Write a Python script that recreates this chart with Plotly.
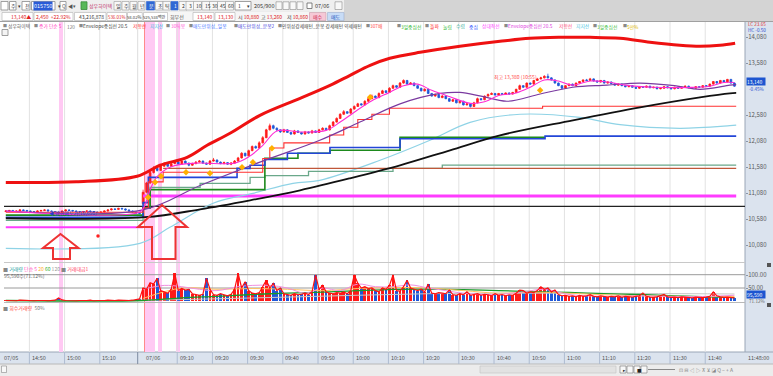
import plotly.graph_objects as go

W, H = 773, 376
FONT = "Noto Sans CJK KR, Noto Sans, DejaVu Sans, sans-serif"

# ---------------- data ----------------
time_labels = ["14:50", "15:00", "15:10", "09:10", "09:20", "09:30", "09:40", "09:50", "10:00",
               "10:10", "10:20", "10:30", "10:40", "10:50", "11:00", "11:10", "11:20", "11:30", "11:40"]
time_label_idx = [7, 17, 27, 49, 59, 69, 79, 89, 99, 109, 119, 129, 139, 149, 159, 169, 179, 189, 199]
day_labels = ["07/05", "07/06"]
day_label_idx = [0, 39]

opens_05 = [10730,10740,10750,10730,10740,10760,10750,10740,10730,10720,
            10740,10750,10760,10740,10730,10720,10710,10740,10760,10750,
            10740,10730,10720,10730,10740,10730,10720,10710,10720,10740,
            10760,10780,10770,10790,10780,10760,10740,10720,10700]
highs_05 = [10750,10760,10760,10750,10770,10770,10760,10750,10740,10750,
            10760,10770,10770,10750,10740,10730,10750,10770,10770,10760,
            10750,10740,10740,10750,10750,10740,10730,10730,10750,10770,
            10790,10790,10800,10800,10790,10770,10750,10730,10710]
lows_05 = [10720,10730,10720,10720,10730,10740,10730,10720,10710,10710,
           10730,10740,10730,10720,10710,10700,10700,10730,10740,10730,
           10720,10710,10710,10720,10720,10710,10700,10700,10710,10730,
           10750,10760,10760,10770,10750,10730,10710,10690,10680]
closes_05 = [10740,10750,10730,10740,10760,10750,10740,10730,10720,10740,
             10750,10760,10740,10730,10720,10710,10740,10760,10750,10740,
             10730,10720,10730,10740,10730,10720,10710,10720,10740,10760,
             10780,10770,10790,10780,10760,10740,10720,10700,10690]

opens_06 = [10880,11100,11280,11480,11560,11520,11600,11640,11600,11650,
            11680,11640,11700,11660,11620,11650,11680,11700,11660,11640,
            11700,11720,11680,11650,11670,11640,11660,11700,11760,11850,
            11800,11900,11980,11950,12050,12150,12300,12380,12330,12300,
            12260,12300,12250,12220,12280,12250,12220,12260,12240,12280,
            12250,12300,12330,12300,12380,12450,12520,12600,12650,12620,
            12700,12750,12800,12780,12850,12900,12950,12920,13000,13050,
            13020,13100,13150,13120,13200,13250,13180,13200,13150,13100,
            13050,13080,13000,12950,12980,12920,12950,12900,12850,12880,
            12820,12850,12780,12800,12750,12820,12900,12880,12950,12980,
            13000,12970,13000,12980,13010,12990,13020,13080,13150,13120,
            13200,13180,13250,13280,13300,13330,13300,13260,13200,13150,
            13100,13150,13180,13150,13200,13230,13260,13250,13280,13240,
            13220,13250,13200,13220,13190,13160,13180,13150,13130,13150,
            13120,13100,13130,13120,13140,13110,13120,13090,13100,13130,
            13110,13090,13120,13100,13120,13140,13110,13100,13130,13120,
            13150,13140,13180,13230,13200,13250,13220,13270,13200]
highs_06 = [11150,11300,11500,11600,11580,11620,11680,11660,11670,11700,
            11700,11720,11710,11670,11670,11700,11720,11710,11670,11720,
            11760,11730,11690,11690,11680,11680,11720,11780,11870,11860,
            11920,12000,12000,12080,12180,12320,12420,12400,12350,12310,
            12320,12310,12260,12300,12290,12260,12280,12270,12300,12290,
            12320,12350,12340,12400,12470,12540,12620,12680,12660,12720,
            12770,12820,12810,12870,12920,12980,12960,13020,13070,13060,
            13120,13170,13160,13220,13270,13260,13220,13210,13160,13110,
            13100,13090,13010,13000,12990,12970,12960,12910,12890,12890,
            12860,12860,12810,12810,12840,12920,12910,12960,13000,13020,
            13010,13010,13010,13020,13020,13030,13090,13170,13160,13210,
            13210,13260,13300,13320,13350,13380,13310,13270,13210,13160,
            13160,13190,13190,13210,13240,13270,13280,13300,13290,13250,
            13260,13260,13230,13230,13200,13190,13190,13160,13160,13160,
            13130,13140,13140,13150,13150,13130,13130,13110,13140,13140,
            13120,13130,13130,13130,13150,13150,13120,13140,13140,13160,
            13160,13190,13240,13240,13260,13260,13280,13280,13210]
lows_06 = [10860,11080,11260,11460,11500,11510,11590,11590,11590,11640,
           11630,11630,11650,11600,11610,11640,11670,11650,11630,11630,
           11690,11670,11640,11640,11630,11620,11650,11690,11750,11790,
           11790,11890,11940,11940,12040,12140,12290,12310,12280,12240,
           12250,12240,12200,12210,12240,12210,12210,12230,12230,12240,
           12240,12290,12290,12290,12370,12440,12510,12590,12610,12610,
           12690,12740,12770,12770,12840,12890,12910,12910,12990,13010,
           13010,13090,13110,13110,13190,13170,13170,13140,13090,13040,
           13040,12990,12940,12940,12910,12910,12890,12840,12840,12810,
           12810,12770,12770,12730,12740,12810,12870,12870,12940,12970,
           12960,12960,12970,12970,12980,12980,13010,13070,13110,13110,
           13170,13170,13240,13270,13290,13290,13250,13190,13140,13080,
           13090,13140,13140,13140,13190,13220,13240,13240,13230,13210,
           13210,13190,13190,13180,13150,13150,13140,13120,13120,13110,
           13090,13090,13110,13110,13100,13100,13080,13080,13090,13100,
           13080,13080,13090,13090,13110,13100,13090,13090,13110,13110,
           13130,13130,13170,13190,13190,13210,13210,13190,13130]
closes_06 = [11100,11280,11480,11560,11520,11600,11640,11600,11650,11680,
             11640,11700,11660,11620,11650,11680,11700,11660,11640,11700,
             11720,11680,11650,11670,11640,11660,11700,11760,11850,11800,
             11900,11980,11950,12050,12150,12300,12380,12330,12300,12260,
             12300,12250,12220,12280,12250,12220,12260,12240,12280,12250,
             12300,12330,12300,12380,12450,12520,12600,12650,12620,12700,
             12750,12800,12780,12850,12900,12950,12920,13000,13050,13020,
             13100,13150,13120,13200,13250,13180,13200,13150,13100,13050,
             13080,13000,12950,12980,12920,12950,12900,12850,12880,12820,
             12850,12780,12800,12750,12820,12900,12880,12950,12980,13000,
             12970,13000,12980,13010,12990,13020,13080,13150,13120,13200,
             13180,13250,13280,13300,13330,13300,13260,13200,13150,13100,
             13150,13180,13150,13200,13230,13260,13250,13280,13240,13220,
             13250,13200,13220,13190,13160,13180,13150,13130,13150,13120,
             13100,13130,13120,13140,13110,13120,13090,13100,13130,13110,
             13090,13120,13100,13120,13140,13110,13100,13130,13120,13150,
             13140,13180,13230,13200,13250,13220,13270,13200,13140]

volume_05 = [2,1,2,1,3,2,1,2,1,2,3,2,1,2,3,12,4,2,1,2,1,2,1,2,3,1,2,1,2,3,2,2,3,2,1,2,3,5,8]
volume_06 = [50,45,70,65,87,40,35,30,45,106,
             40,48,42,45,28,25,22,26,87,45,
             25,22,28,24,20,26,45,106,50,74,
             40,30,28,32,55,80,50,68,40,50,
             28,25,22,28,24,26,30,25,35,100,
             45,60,35,30,28,32,30,35,28,40,
             100,68,50,55,48,50,40,35,50,45,
             60,100,40,38,55,80,50,45,40,45,
             35,65,30,28,32,30,28,42,25,22,
             28,24,35,22,25,28,22,26,24,20,
             28,22,25,20,24,22,30,42,40,30,
             35,32,40,55,45,50,35,42,25,20,
             22,18,20,16,22,18,20,24,18,16,
             20,18,15,18,16,20,14,18,16,15,
             18,20,31,18,15,14,16,20,25,16,
             14,15,13,16,15,14,12,15,14,13,
             15,18,35,20,16,14,15,13,12]

assert len(opens_05) == len(highs_05) == len(lows_05) == len(closes_05) == len(volume_05) == 39
assert len(opens_06) == len(highs_06) == len(lows_06) == len(closes_06) == len(volume_06) == 169

opens = opens_05 + opens_06
highs = highs_05 + highs_06
lows = lows_05 + lows_06
closes = closes_05 + closes_06
volumes = volume_05 + volume_06
bar_idx = list(range(len(closes)))

# overlay lines (bar index, price)
env_x = [0, 20, 37.3, 43.8, 51.5, 57.2, 63.7, 72.2, 83.6, 92.1, 97.8, 103.5, 109.1, 117.7, 129.0, 140.4,
         148.9, 157.4, 166.0, 174.5, 183.0, 191.5, 197.2, 202.9, 207.2]
env_y = [11290, 11300, 11407, 11619, 11772, 12003, 12234, 12580, 12907, 13157, 13349, 13541, 13676, 13791,
         13907, 14003, 14061, 14080, 14080, 14061, 13984, 13926, 13907, 13926, 13965]
black_x = [0, 39.5, 55.2, 69.4, 83.6, 97.8, 112.0, 126.2, 140.4, 161.1, 180.2, 197.2, 205.7, 207.5]
black_y = [10600, 10620, 10772, 10945, 11138, 11369, 11618, 11907, 12195, 12484, 12734, 12926, 13003, 13010]
cyan_x = [0, 38.1, 46.6, 58.9, 70.2, 81.6, 89.2, 106.3, 120.5, 131.9, 146.1, 163.1, 174.5, 191.5, 205.7, 207.5]
cyan_y = [10022, 10118, 10426, 10888, 11080, 11272, 11330, 11715, 12100, 12445, 12600, 12540, 12400, 12330, 12380, 12390]
purple_x = [0, 38.9, 55.2, 72.2, 89.2, 100.6, 112, 123.4, 129, 135, 142.4, 151.8, 161.1, 170.8, 180.2, 190, 197.2, 205.7, 207.5]
purple_y = [10740, 10760, 11230, 11680, 12100, 12450, 12800, 13000, 13020, 12950, 12850, 12990, 13120, 13160, 13200, 13150, 13080, 13160, 13170]
ma5_x = [0, 38, 39.5, 41, 43, 47, 54, 65, 69, 73, 77, 84, 91, 95, 99, 104, 109, 113, 117, 121, 126, 132,
         136, 140, 145, 149, 153, 157, 161, 166, 171, 176, 184, 194, 200, 204, 207]
ma5_y = [10740, 10720, 10850, 11150, 11400, 11590, 11660, 11660, 11780, 12000, 12280, 12260, 12290, 12450,
         12640, 12860, 13020, 13150, 13180, 13060, 12940, 12810, 12840, 12960, 13010, 13120, 13260, 13240,
         13160, 13240, 13220, 13160, 13120, 13115, 13140, 13210, 13210]
blue_x = [0, 39, 40.5, 65.7, 69.4, 73.6, 80, 92.1, 112, 153.2, 207.5]
blue_y = [10620, 10900, 11387, 11560, 11620, 11730, 11850, 11960, 12130, 12180, 12180]
green_x = [0, 39, 41, 73.6, 83, 92.1, 112, 153.2]
green_y = [10660, 10800, 11150, 11753, 11850, 11907, 12157, 12157]
teal_x = [0, 39, 41, 55.2, 69.4, 73.6, 86, 110, 124, 207.5]
teal_y = [10560, 10800, 11195, 11272, 11387, 11420, 11500, 11560, 11620, 11620]
brown_x = [44.7, 207.5]
brown_y = [11560, 11560]
redthin_x = [0, 39, 40.5, 44.7, 73, 75, 79, 92, 96, 100, 104, 109, 152.5, 207.5]
redthin_y = [10715, 10800, 11300, 11484, 11750, 11950, 12050, 12200, 12350, 12500, 12600, 12715, 12753, 12753]
magenta_left_x = [0, 39]
magenta_left_y = [10426, 10426]
magenta_right_x = [39, 207.5]
magenta_right_y = [11030, 11030]
ref_line_price = 10830
orange_x = [40.4, 42.4, 44.1, 51.2, 58.0, 67.1, 70.2, 75.6, 103.5, 151.8]
orange_y = [11003, 11291, 11407, 11484, 11464, 11580, 11676, 11945, 12926, 13060]

vol_ma5_x = [39, 45, 50, 55, 60, 66, 70, 75, 80, 85, 90, 95, 100, 105, 110, 115, 120, 125, 130, 140, 147, 153, 160, 170, 180, 190, 200, 207]
vol_ma5_y = [45, 60, 55, 45, 40, 55, 60, 60, 50, 30, 50, 40, 65, 55, 55, 62, 50, 40, 30, 26, 35, 45, 25, 18, 20, 17, 18, 22]
vol_ma20_x = [39, 50, 60, 70, 80, 90, 100, 110, 120, 130, 140, 150, 160, 170, 180, 190, 200, 207]
vol_ma20_y = [10, 50, 45, 48, 45, 40, 48, 52, 50, 40, 30, 34, 30, 24, 20, 18, 17, 17]
vol_ma60_x = [0, 39, 50, 60, 70, 80, 90, 100, 110, 120, 130, 140, 150, 160, 170, 180, 190, 200, 207]
vol_ma60_y = [2, 2, 12, 18, 25, 30, 34, 40, 45, 46, 44, 40, 36, 33, 28, 25, 20, 16, 13]
vol_ma120_x = [0, 39, 80, 120, 160, 207]
vol_ma120_y = [2, 3, 15, 28, 30, 27]

price_ticks = [10080, 10580, 11080, 11580, 12080, 12580, 13580, 14080]
vol_ticks = [50, 100]

# ---------------- geometry helpers ----------------
def xp(x):
    return x / W

def yp(y):
    return 1 - y / H

def price_at(y):
    return 14080 - (y - 37.3) * 500 / 26

def vol_at(y):
    return (301 - y) * 50 / 13

def idx_at(px):
    return (px - 5.8) / 3.52

XMIN, XMAX = idx_at(4), idx_at(745)

shapes = []
anns = []

def rect(x0, y0, x1, y1, fill, line=None, lw=0, layer="below"):
    shapes.append(dict(type="rect", xref="paper", yref="paper", x0=xp(x0), x1=xp(x1), y0=yp(y1), y1=yp(y0),
                       fillcolor=fill, line=dict(color=line or fill, width=lw), layer=layer))

def hline(x0, x1, y, color, w=1, layer="below"):
    shapes.append(dict(type="line", xref="paper", yref="paper", x0=xp(x0), x1=xp(x1), y0=yp(y), y1=yp(y),
                       line=dict(color=color, width=w), layer=layer))

def vline(x, y0, y1, color, w=1, layer="below"):
    shapes.append(dict(type="line", xref="paper", yref="paper", x0=xp(x), x1=xp(x), y0=yp(y0), y1=yp(y1),
                       line=dict(color=color, width=w), layer=layer))

def text(x, y, s, color="#333", size=5, anchor="left", bg=None):
    d = dict(xref="paper", yref="paper", x=xp(x), y=yp(y), text=s, showarrow=False, xanchor=anchor,
             yanchor="middle", font=dict(family=FONT, size=size, color=color), borderpad=0)
    if bg:
        d["bgcolor"] = bg
    anns.append(d)

# ---------------- background chrome ----------------
rect(0, 0, 773, 21.5, "#d4d4d4")
rect(0, 0, 344, 11.5, "#efefef")
rect(0, 11.5, 344, 21.5, "#f6f6f6")
hline(0, 773, 21.5, "#a0a0a0")
rect(745, 22, 773, 352, "#dbe3ee")
vline(745, 22, 364, "#9aa6b6")
rect(0, 352, 773, 364, "#dbe3ee")
hline(0, 773, 352, "#9aa6b6")
rect(0, 364, 773, 376, "#ececec")
hline(0, 773, 364, "#b8b8b8")

for x0, x1 in [(59, 63), (144, 155), (158, 162), (176, 180)]:
    rect(x0, 22, x1, 352, "#ffc9f3")
vline(144.5, 22, 352, "#ff8a8a", 1)

for i in time_label_idx:
    shapes.append(dict(type="line", xref="x", yref="paper", x0=i - 0.3, x1=i - 0.3, y0=yp(352), y1=yp(22),
                       line=dict(color="#e2e2e2", width=1), layer="below"))
    shapes.append(dict(type="line", xref="x", yref="paper", x0=i - 0.3, x1=i - 0.3, y0=yp(364), y1=yp(352),
                       line=dict(color="#aebbd0", width=1), layer="below"))
vline(137.7, 352, 364, "#7d8aa0", 1)
vline(137.7, 22, 352, "#dddddd", 1)

hline(4, 745, 262.5, "#c8c8c8")
hline(4, 745, 274.7, "#9a9a9a")
hline(4, 745, 288, "#9a9a9a")
hline(4, 745, 302.5, "#b8b8b8")

# ---------------- traces ----------------
fig = go.Figure()

def line_trace(x, y, color, width, shape="linear", axis=("x", "y"), dash=None):
    fig.add_trace(go.Scatter(x=x, y=y, mode="lines", line=dict(color=color, width=width, shape=shape, dash=dash),
                             xaxis=axis[0], yaxis=axis[1], hoverinfo="skip"))

line_trace([XMIN, XMAX], [ref_line_price, ref_line_price], "#222222", 1.3)
line_trace(magenta_left_x, magenta_left_y, "#ff3cff", 2)
line_trace(magenta_right_x, magenta_right_y, "#ff3cff", 3)
line_trace(cyan_x, cyan_y, "#8fd3e6", 1.2, "spline")
line_trace(teal_x, teal_y, "#6aa88a", 1.3, "hv")
line_trace(brown_x, brown_y, "#c0573a", 1.3)
line_trace(green_x, green_y, "#1d8a1d", 1.6, "hv")
line_trace(blue_x, blue_y, "#2346d8", 1.6, "hv")
line_trace(redthin_x, redthin_y, "#ff3030", 1.1, "hv")
line_trace(black_x, black_y, "#111111", 1.8, "spline")
line_trace(env_x, env_y, "#ee1111", 3, "spline")

fig.add_trace(go.Candlestick(
    x=bar_idx, open=opens, high=highs, low=lows, close=closes,
    increasing=dict(line=dict(color="#ff1a1a", width=0.8), fillcolor="#ff1a1a"),
    decreasing=dict(line=dict(color="#2058d8", width=0.8), fillcolor="#2058d8"),
    whiskerwidth=0, xaxis="x", yaxis="y", hoverinfo="skip"))

line_trace(purple_x, purple_y, "#7a3aa0", 1.2, "spline")
line_trace(ma5_x, ma5_y, "#ff2ad4", 1.1, "spline")
fig.add_trace(go.Scatter(x=orange_x, y=orange_y, mode="markers",
                         marker=dict(symbol="diamond", size=5, color="#ffb000"), xaxis="x", yaxis="y",
                         hoverinfo="skip"))
fig.add_trace(go.Scatter(x=[idx_at(98)], y=[price_at(236)], mode="markers",
                         marker=dict(size=3.5, color="#ff2020"), xaxis="x", yaxis="y", hoverinfo="skip"))

vol_colors = ["#ff1a1a" if c >= o else "#2058d8" for o, c in zip(opens, closes)]
fig.add_trace(go.Bar(x=bar_idx, y=volumes, marker=dict(color=vol_colors, line=dict(width=0)), width=0.78,
                     xaxis="x2", yaxis="y2", hoverinfo="skip"))
line_trace(vol_ma120_x, vol_ma120_y, "#c8c8c8", 1, "spline", ("x2", "y2"))
line_trace(vol_ma60_x, vol_ma60_y, "#1a9a2a", 1.3, "spline", ("x2", "y2"))
line_trace(vol_ma20_x, vol_ma20_y, "#ffc060", 1, "spline", ("x2", "y2"))
line_trace(vol_ma5_x, vol_ma5_y, "#f090e0", 1, "spline", ("x2", "y2"))
line_trace(bar_idx, volumes, "#ff1010", 1.2, "linear", ("x2", "y2"))

fig.add_trace(go.Scatter(x=[0], y=[-1], mode="markers", marker=dict(size=1, color="rgba(0,0,0,0)"),
                         xaxis="x3", yaxis="y3", hoverinfo="skip"))

# ---------------- arrows ----------------
def path(points):
    return "M " + " L ".join(f"{xp(x):.5f},{yp(y):.5f}" for x, y in points) + " Z"

for pts in ([(60.5, 234), (78.5, 248), (70, 248), (70, 259), (53, 259), (53, 248), (43, 248)],
            [(162, 205), (187, 227), (175.5, 227), (175.5, 259), (152, 259), (152, 227), (138, 227)]):
    shapes.append(dict(type="path", xref="paper", yref="paper", path=path(pts),
                       line=dict(color="#ee3333", width=2), fillcolor="rgba(0,0,0,0)", layer="above"))

# ---------------- texts ----------------
TL = 5.5
text(2.5, 358, day_labels[0], "#555", TL)
text(145, 358, day_labels[1], "#555", TL)
for lab, i in zip(time_labels, time_label_idx):
    px = 5.8 + 3.52 * i
    text(px + 0.5, 358, lab, "#555", TL)
text(746.5, 358, "11:48:00", "#555", TL)

text(746.5, 24.0, "LC 23.65", "#e03030", 4.6)
text(746.5, 30.2, "HC -0.50", "#3050d0", 4.6)
text(746, 81.8, "13,140  ", "#ffffff", 5, bg="#1d55d0")
text(748, 89.2, "-0.45%", "#3050d0", 4.6)
text(746, 294.6, "95,590  ", "#ffffff", 5, bg="#1d55d0")
text(748, 301.4, "71.12%", "#666", 4.6)
rect(767, 263, 771, 267, "#555")
rect(767, 303, 771, 307, "#555")

anns.append(dict(xref="x", yref="y", x=idx_at(539), y=price_at(76.5), text="최고 13,380 (10:55)", showarrow=False,
                 xanchor="right", yanchor="middle", font=dict(family=FONT, size=5, color="#ff4a4a")))
anns.append(dict(xref="x", yref="y", x=idx_at(47), y=price_at(213), text="◀ 상한매도가(10,690)", showarrow=False,
                 xanchor="left", yanchor="middle", font=dict(family=FONT, size=5, color="#2a3ad0")))

# legend row (each item placed where the reference shows it)
SQ = "#8a8a8a"
legend_items = [
    (1.5, "■", SQ), (7, "성우하이텍", "#555"), (33, "■", SQ), (38, "증가 단순 5", "#ff40c0"), (66, "120", "#777"),
    (78, "■", SQ), (82, "Envelope중심선 20.5", "#444"), (132, "저항선", "#ff3030"), (149, "지지선", "#30b8e0"),
    (165, "■", SQ), (170, "30틱봉", "#ff5ad8"), (188, "■", SQ), (192, "매도만위성_일봉", "#4a78ff"),
    (233, "■", SQ), (237, "매도만위성_분봉2", "#4646dc"), (277, "■", SQ),
    (281, "인위성강세패턴_분봉 강세패턴 약세패턴", "#444"), (364.5, "■", SQ), (369, "307배", "#ff5050"),
    (395.5, "■", SQ), (400, "3일중심선", "#30b830"), (424, "■", SQ), (429, "돌파", "#ff2020"),
    (442, "눌림", "#30b830"), (455, "수렴", "#40b0a0"), (468, "중심", "#3050ff"), (481, "상대적선", "#ff40ff"),
    (502.5, "■", SQ), (507, "Envelope중심선 20.5", "#e040e0"), (558, "저항선", "#ff5080"),
    (575, "지지선", "#40c0e0"), (591.5, "■", SQ), (596, "3일중심선", "#40c040"), (621.5, "■", SQ),
    (626, "5만%", "#e0b800"),
]
for x, s, c in legend_items:
    text(x, 26, s, c, 4.8 if s != "■" else 4)
rect(2, 29.5, 8, 35.5, "#f4f4f4", "#888", 0.8, "above")

vol_leg = [("■ ", "#888"), ("거래량 ", "#20a0a0"), ("단순 5 ", "#ff50c0"), ("20 ", "#ffb030"), ("60 ", "#30b030"),
           ("120 ", "#999"), ("■ ", "#888"), ("거래대금1", "#ff4060")]
text(2, 269, "".join(f'<span style="color:{c}">{t}</span>' for t, c in vol_leg), "#555", 5)
text(3, 275.5, "95,590주(71.12%)", "#666", 5)
text(2, 308, '<span style="color:#888">■ </span><span style="color:#ff4040">회수거래량</span>'
             '<span style="color:#777">  50%</span>', "#555", 5)

# toolbar row 1
rect(1, 1.5, 8, 10, "#ffffff", "#8a8a8a", 0.8, "above")
rect(9.5, 1.5, 16, 10, "#ffffff", "#8a8a8a", 0.8, "above")
text(10.3, 5.8, "주", "#333", 5)
text(17, 5.8, "▾", "#333", 5)
rect(22, 1.5, 30, 10, "#ffffff", "#8a8a8a", 0.8, "above")
text(23.5, 5.8, "전", "#333", 5)
rect(31.5, 1.5, 55, 10, "#ffffff", "#8a8a8a", 0.8, "above")
text(33, 5.8, "015750", "#ffffff", 5.5, bg="#2a5bd7")
text(56.5, 5.8, "▾", "#333", 5)
rect(60, 1.5, 66, 10, "#ffffff", "#8a8a8a", 0.8, "above")
text(61, 5.8, "Q", "#555", 5)
text(67, 5.8, "◀▾", "#555", 5)
rect(81, 1.8, 87, 9.5, "#58b858", "#3a8a3a", 0.8, "above")
text(88, 5.8, "성우하이텍", "#c0306a", 5)
for lab, x in zip(["일", "주", "월", "년"], [115, 123, 131, 139]):
    rect(x - 1, 1.5, x + 6, 10, "#f8f8f8", "#9a9a9a", 0.6, "above")
    text(x, 5.8, lab, "#333", 5)
rect(146.5, 1.5, 154.5, 10, "#2f68d4", "#2f68d4", 0.6, "above")
text(148, 5.8, "분", "#ffffff", 5)
for lab, x in zip(["초", "틱"], [156.5, 164]):
    rect(x - 1, 1.5, x + 6.5, 10, "#f8f8f8", "#9a9a9a", 0.6, "above")
    text(x + 0.3, 5.8, lab, "#333", 5)
rect(171, 1.5, 178, 10, "#2f68d4", "#2f68d4", 0.6, "above")
text(173, 5.8, "1", "#ffffff", 5)
for lab, x in zip(["2", "3", "10", "15", "30", "45", "60"], [180, 187, 194.5, 203, 210.5, 218.5, 226.5]):
    rect(x - 1, 1.5, x + 7, 10, "#f8f8f8", "#9a9a9a", 0.6, "above")
    text(x + 0.5, 5.8, lab, "#333", 5)
rect(235, 1.5, 251, 10, "#ffffff", "#8a8a8a", 0.8, "above")
text(237, 5.8, "1", "#333", 5)
text(246, 5.8, "▾", "#333", 5)
text(253, 5.8, "205/900", "#333", 5.5)
for x in [276, 283, 290, 297]:
    rect(x, 1.8, x + 6, 9.5, "#f8f8f8", "#8a8a8a", 0.6, "above")
rect(307, 3, 312, 8.5, "#ffffff", "#666", 0.8, "above")
text(314, 5.8, "07/06", "#333", 5.5)
rect(335, 1.8, 342, 9.5, "#f8f8f8", "#8a8a8a", 0.6, "above")

# toolbar row 2
row2 = [(2, 33, "13,140▲", "#e02020", 5), (34, 73, "2,450  +22.92%", "#e02020", 5),
        (74.5, 106, "43,216,878", "#333", 5), (107, 126.5, "536.01%", "#e02020", 4.4),
        (127.5, 142.3, "58.02%", "#333", 4.2), (143.5, 167.5, "525,538백만", "#333", 4.1)]
for x0, x1, s, c, fs in row2:
    rect(x0, 12.5, x1, 20.5, "#ffffff", "#b0b0b0", 0.6, "above")
    text(x1 - 0.8, 16.5, s, c, fs, "right")
text(169, 16.5, "회무선", "#555", 5)
rect(193, 12.5, 214, 20.5, "#ffffff", "#b0b0b0", 0.6, "above")
text(213, 16.5, "13,140", "#e02020", 5, "right")
rect(215, 12.5, 235, 20.5, "#ffffff", "#b0b0b0", 0.6, "above")
text(234, 16.5, "13,130", "#e02020", 5, "right")
text(237, 16.5, '시 <span style="color:#e02020">10,880</span>', "#333", 5)
text(260, 16.5, '고 <span style="color:#e02020">13,260</span>', "#333", 5)
text(286, 16.5, '저 <span style="color:#e02020">10,860</span>', "#333", 5)
rect(309.5, 12.5, 326, 20.5, "#f6c8d6", "#c89aa8", 0.6, "above")
text(317.7, 16.5, "매수", "#d02050", 5, "center")
rect(327.5, 12.5, 344, 20.5, "#c8dcf6", "#9aaccc", 0.6, "above")
text(335.7, 16.5, "매도", "#2050c0", 5, "center")

# bottom scroll row
rect(1.5, 366, 6.5, 372.5, "#f8f8f8", "#888", 0.6, "above")
rect(480, 366, 616, 373, "#e2e2e2", "#c4c4c4", 0.6, "above")
for x in [620, 627, 634, 641]:
    rect(x, 366, x + 6, 373, "#f8f8f8", "#777", 0.6, "above")
text(621.5, 369.5, "▸", "#222", 4.5)
text(635.5, 369.5, "■", "#222", 4.5)
hline(648, 675, 369.5, "#888", 1, "above")
text(678, 369.5, "⊡ ⊟ ◁ ▷ ⊼ ⊻ ◪ Q − + A", "#888", 5)

# ---------------- layout ----------------
xdom = [xp(4), xp(745)]
axis_font = dict(family=FONT, size=6, color="#5a5a5a")
fig.update_layout(
    width=W, height=H, margin=dict(l=0, r=0, t=0, b=0), autosize=False,
    paper_bgcolor="white", plot_bgcolor="rgba(0,0,0,0)", showlegend=False,
    xaxis=dict(domain=xdom, range=[XMIN, XMAX], visible=False, anchor="y", rangeslider=dict(visible=False),
               fixedrange=True),
    xaxis2=dict(domain=xdom, range=[XMIN, XMAX], visible=False, anchor="y2", matches="x"),
    xaxis3=dict(domain=xdom, range=[XMIN, XMAX], visible=False, anchor="y3", matches="x"),
    yaxis=dict(domain=[yp(262), yp(22)], range=[price_at(262), price_at(22)], side="right", anchor="x",
               tickvals=price_ticks, ticktext=[f"{v:,}" for v in price_ticks], tickfont=axis_font,
               ticks="outside", ticklen=2, tickcolor="#8a96a8", showgrid=False, zeroline=False, showline=False,
               ticklabelstandoff=-1),
    yaxis2=dict(domain=[yp(302), yp(262)], range=[vol_at(302), vol_at(262)], side="right", anchor="x2",
                tickvals=vol_ticks, ticktext=[f"{v:.2f}" for v in vol_ticks], tickfont=axis_font,
                ticks="outside", ticklen=2, tickcolor="#8a96a8", showgrid=False, zeroline=False, showline=False,
                ticklabelstandoff=-1),
    yaxis3=dict(domain=[yp(352), yp(303)], range=[0, 1], visible=False, anchor="x3"),
    shapes=shapes, annotations=anns, bargap=0,
)

fig.write_html("out.html", config={"displayModeBar": False, "staticPlot": True},
               post_script="document.body.style.margin='0';document.body.style.overflow='hidden';")
